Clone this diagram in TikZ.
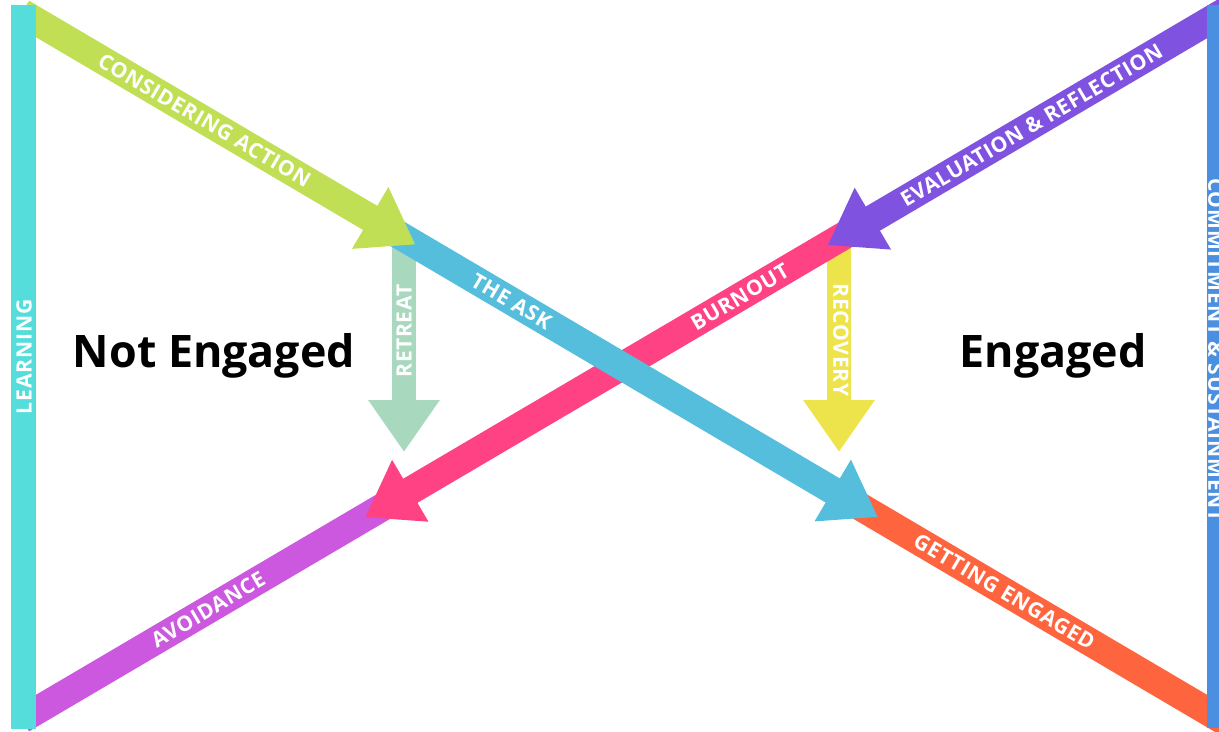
\documentclass[tikz,border=0pt]{standalone}
\usepackage{fontspec}
\setmainfont{Open Sans}
\usetikzlibrary{arrows.meta,calc}

\begin{document}
\begin{tikzpicture}[
        x=0.02cm, y=-0.02cm,
        band/.style={line width=0.56cm},
        tip/.style={-{Triangle[width=1.36cm,length=1.05cm]}},
        drop/.style={line width=0.48cm,-{Triangle[width=1.36cm,length=1.04cm]}},
        lbl/.style={text=white,inner sep=0pt,font=\fontsize{12}{12}\selectfont\bfseries\addfontfeature{LetterSpace=3}},
        side/.style={text=white,inner sep=0pt,font=\fontsize{12}{12}\selectfont\bfseries\addfontfeature{LetterSpace=4}},
        big/.style={inner sep=0pt,font=\fontsize{25.5}{27}\selectfont\bfseries}
    ]
    \definecolor{lrn}{HTML}{55DDDB}
    \definecolor{cmt}{HTML}{4A8FE0}
    \definecolor{act}{HTML}{C0DF55}
    \definecolor{ask}{HTML}{56BEDD}
    \definecolor{eng}{HTML}{FE653F}
    \definecolor{evl}{HTML}{7F53DF}
    \definecolor{brn}{HTML}{FE4283}
    \definecolor{avd}{HTML}{CB58DE}
    \definecolor{rtr}{HTML}{A8D8BE}
    \definecolor{rcv}{HTML}{EDE34A}

    \useasboundingbox (0,0) rectangle (1219,731);
    \clip (0,0) rectangle (1219,731);

    \coordinate (LT) at (36,21);
    \coordinate (RB) at (1207,711);
    \coordinate (RT) at (1207,22);
    \coordinate (LB) at (36,711);

    \coordinate (act0) at ($(LT)!-0.012!(RB)$);
    \coordinate (act1) at ($(LT)!0.324!(RB)$);
    \coordinate (ask0) at ($(LT)!0.300!(RB)$);
    \coordinate (ask1) at ($(LT)!0.719!(RB)$);
    \coordinate (eng0) at ($(LT)!0.690!(RB)$);
    \coordinate (eng1) at ($(LT)!1.020!(RB)$);

    \coordinate (evl0) at ($(RT)!-0.020!(LB)$);
    \coordinate (evl1) at ($(RT)!0.324!(LB)$);
    \coordinate (brn0) at ($(RT)!0.300!(LB)$);
    \coordinate (brn1) at ($(RT)!0.719!(LB)$);
    \coordinate (avd0) at ($(RT)!0.690!(LB)$);
    \coordinate (avd1) at ($(RT)!1.012!(LB)$);

    \coordinate (rtr0) at (404,240);
    \coordinate (rtr1) at (404,452);
    \coordinate (rcv0) at (839,240);
    \coordinate (rcv1) at (839,452);

    \draw [drop,rtr] (rtr0) -- (rtr1);
    \draw [drop,rcv] (rcv0) -- (rcv1);
    \draw [band,avd] (avd0) -- (avd1);
    \draw [band,eng] (eng0) -- (eng1);
    \draw [band,tip,brn] (brn0) -- (brn1);
    \draw [band,tip,ask] (ask0) -- (ask1);
    \draw [band,tip,act] (act0) -- (act1);
    \draw [band,tip,evl] (evl0) -- (evl1);

    \fill [lrn] (11,5) rectangle (36,729);
    \fill [cmt] (1207,5) rectangle (1235,728);

    \path (LT) -- node[lbl,sloped,pos=0.144] (actL) {CONSIDERING ACTION}
                  node[lbl,sloped,pos=0.406] (askL) {THE ASK}
                  node[lbl,sloped,pos=0.827] (engL) {GETTING ENGAGED} (RB);
    \path (RT) -- node[lbl,sloped,pos=0.150] (evlL) {EVALUATION \& REFLECTION}
                  node[lbl,sloped,pos=0.399] (brnL) {BURNOUT}
                  node[lbl,sloped,pos=0.853] (avdL) {AVOIDANCE} (LB);
    \node[lbl,rotate=90]  (rtrL) at (404,331) {RETREAT};
    \node[lbl,rotate=-90] (rcvL) at (841,340) {RECOVERY};

    \node[side,rotate=90]  (lrnL) at (24,357)   {LEARNING};
    \node[side,rotate=-90] (cmtL) at (1216,350) {COMMITMENT \& SUSTAINMENT};

    \node[big,anchor=base] (notE) at (214,367)  {Not Engaged};
    \node[big,anchor=base] (isE)  at (1053,367) {Engaged};
\end{tikzpicture}
\end{document}
